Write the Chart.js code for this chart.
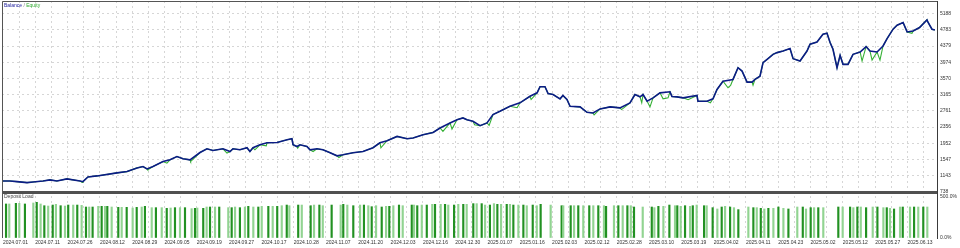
<!DOCTYPE html>
<html><head><meta charset="utf-8">
<script src="https://cdn.jsdelivr.net/npm/chart.js@4.4.1/dist/chart.umd.min.js"></script>
<style>html,body{margin:0;padding:0;background:#fff;}#wrap{width:960px;height:248px;position:relative;}</style>
</head><body><div id="wrap"><canvas id="c" width="960" height="248"></canvas></div>
<script>
// ---- data ----
const xTickLabels = ['2024.07.01','2024.07.11','2024.07.26','2024.08.12','2024.08.29','2024.09.05','2024.09.19','2024.09.27','2024.10.17','2024.10.28','2024.11.07','2024.11.20','2024.12.03','2024.12.16','2024.12.30','2025.01.07','2025.01.16','2025.02.03','2025.02.12','2025.02.28','2025.03.10','2025.03.19','2025.04.02','2025.04.11','2025.04.23','2025.05.02','2025.05.12','2025.05.27','2025.06.13'];
const yTickValues = [738,1142.5,1547,1951.5,2356,2760.5,3165,3569.5,3974,4378.5,4783,5187.5];
const yTickLabels = ['738','1143','1547','1952','2356','2761','3165','3570','3974','4379','4783','5188'];
const loadTickValues = [0,500];
const loadTickLabels = ['0.0%','500.0%'];

const balanceT = [0,0.43,0.87,1.49,1.86,2.48,2.91,3.34,3.96,4.77,
4.95,5.26,5.82,7.06,7.68,8.30,8.67,8.92,9.29,9.91,
10.34,10.77,11.15,11.58,12.20,12.63,13.00,13.62,14.06,14.24,
14.67,15.11,15.29,15.48,15.91,16.35,16.97,17.59,17.89,17.96,
18.20,18.39,18.82,19.01,19.44,19.81,20.22,20.68,21.05,21.67,
22.29,22.91,23.34,23.78,24.40,25.02,25.39,26.01,26.63,27.06,
27.68,28.11,28.48,28.73,29.10,29.54,29.97,30.34,30.77,31.39,
32.01,32.63,33.07,33.25,33.56,33.75,34.06,34.49,34.67,34.92,
35.11,35.73,36.16,36.53,36.97,37.59,38.20,38.82,39.13,39.44,
39.63,39.88,40.25,40.68,41.30,41.42,41.73,42.11,42.97,43.03,
43.59,43.96,44.21,44.58,45.20,45.51,45.76,46.07,46.38,46.56,
46.87,47.06,47.31,47.68,47.93,48.30,48.73,48.92,49.35,49.78,
49.97,50.40,50.77,51.02,51.21,51.39,51.64,51.83,52.01,52.32,
52.63,53.07,53.44,53.68,54.12,54.49,54.74,55.11,55.36,55.73,
55.98,56.35,56.75,57.21,57.28,57.52,57.70];
const balance = [1014,1014,996,971,989,1014,1039,1014,1064,1014,
996,1114,1139,1214,1247,1339,1372,1314,1372,1497,
1540,1623,1565,1540,1723,1816,1773,1816,1748,1816,
1791,1841,1748,1841,1916,1966,1973,2041,2066,1916,
1873,1916,1873,1791,1816,1791,1723,1640,1665,1715,
1748,1841,1966,2016,2124,2066,2084,2166,2224,2334,
2460,2542,2585,2542,2500,2392,2460,2668,2750,2876,
2961,3126,3211,3362,3362,3194,3169,3061,3144,3044,
2876,2861,2725,2710,2810,2861,2836,2961,3169,3111,
3169,3001,3086,3211,3236,3119,3111,3086,3144,3001,
3001,3061,3294,3502,3545,3838,3753,3477,3477,3545,
3627,3963,4046,4171,4214,4254,4314,4063,4003,4254,
4422,4479,4672,4697,4464,4297,3838,4146,3921,3921,
4171,4229,4364,4254,4229,4379,4565,4798,4898,4966,
4730,4755,4840,5031,4966,4798,4780];

// equity drawdown points (equity equals balance elsewhere)
const equityDipT = [4.90,8.97,10.15,11.62,13.87,15.60,16.30,18.25,19.20,20.80,23.40,27.24,27.80,29.20,30.10,31.83,32.70,36.60,38.30,39.55,40.06,40.87,41.18,42.42,43.80,44.89,45.05,46.44,53.19,53.81,54.30,56.28];
const equityDip = [975,1290,1457,1497,1708,1790,1891,1833,1748,1598,1840,2249,2309,2417,2400,2840,3044,2660,2793,2961,2861,3061,3086,3040,2960,3337,3394,3400,4003,4028,4028,4697];

const loadT = [0.19,0.39,0.80,1.01,1.36,1.88,2.09,2.33,2.56,2.80,
3.08,3.28,3.57,3.84,4.04,4.35,4.60,4.87,5.14,5.34,
5.55,5.90,6.11,6.32,6.46,6.73,7.14,7.35,7.66,8.03,
8.28,8.59,8.79,9.21,9.47,9.83,10.14,10.38,10.65,10.96,
11.27,11.68,11.89,12.03,12.40,12.61,12.82,13.13,13.39,13.95,
14.16,14.37,14.67,14.98,15.19,15.50,15.81,16.02,16.43,16.70,
16.98,17.26,17.57,17.73,18.28,
18.50,19.05,19.26,19.59,19.80,20.35,20.91,21.07,21.32,21.69,
22.11,22.35,22.62,22.83,23.10,23.45,23.72,23.92,24.17,24.52,
24.75,25.31,25.45,25.65,25.93,26.24,26.58,26.75,27.10,27.37,
27.57,27.93,28.19,28.50,28.71,29.12,29.33,29.64,29.85,30.15,
30.40,30.61,30.84,31.19,31.39,31.60,31.91,32.22,32.43,32.80,
33.05,33.29,33.91,34.59,34.69,35.15,35.36,35.62,35.93,36.30,
36.55,36.86,37.21,37.34,37.83,38.10,
38.37,38.66,38.87,39.07,39.61,40.17,40.33,40.58,40.89,41.26,
41.61,41.75,41.96,42.23,42.54,42.71,42.95,43.41,43.57,43.94,
44.23,44.50,44.71,45.02,45.26,45.53,46.15,46.46,46.67,46.92,
47.14,47.39,47.70,48.01,48.32,48.63,49.18,49.52,49.72,50.01,
50.22,50.48,50.79,51.72,51.99,52.45,52.65,52.90,53.11,53.44,
53.85,54.14,54.51,54.72,54.92,55.17,55.54,55.71,56.16,56.41,
56.67,56.98,57.23];
const load = [415,415,423,423,415,427,435,415,394,390,
402,411,394,390,402,402,402,398,378,378,
378,386,386,386,386,378,374,374,374,366,
374,378,386,370,370,370,362,366,370,370,
370,358,362,366,362,378,378,378,378,370,
370,378,370,378,386,378,378,386,386,386,
386,394,402,394,402,
402,394,402,402,394,402,402,411,402,394,
402,402,394,382,394,378,386,386,394,402,
394,402,402,394,402,402,411,411,411,411,
402,402,411,411,411,419,419,419,402,402,
419,411,411,411,411,402,402,402,394,402,
394,411,402,394,394,394,394,394,394,394,
394,394,394,386,394,394,
394,394,394,378,378,378,370,386,386,402,
394,394,386,394,386,394,402,394,394,370,
354,378,386,378,370,346,378,370,370,362,
354,362,362,378,362,354,378,378,354,370,
370,370,370,378,378,378,370,378,378,370,
378,378,370,370,362,354,378,378,378,378,
378,378,378];

// ---- build ----
const balancePts = balanceT.map((t, i) => ({x: t, y: balance[i]}));
const equityPts = balancePts.concat(equityDipT.map((t, i) => ({x: t, y: equityDip[i]}))).sort((a, b) => a.x - b.x);
const loadPts = loadT.map((t, i) => ({x: t, y: load[i]}));

const FONT = {family: '"Liberation Sans", Arial, sans-serif', size: 5};
const GRID = '#d6d6d6';
const AXIS = '#3a3a3a';

const textPlugin = {
  id: 'mtTexts',
  afterDraw(chart) {
    const ctx = chart.ctx, a = chart.chartArea;
    ctx.save();
    ctx.strokeStyle = '#555';
    ctx.lineWidth = 1;
    ctx.beginPath();
    ctx.moveTo(a.left + 0.5, a.bottom);
    ctx.lineTo(a.left + 0.5, a.top + 0.5);
    ctx.lineTo(a.right, a.top + 0.5);
    ctx.stroke();
    ctx.font = '5px "Liberation Sans", Arial, sans-serif';
    ctx.textBaseline = 'top';
    let x = a.left + 2, y = a.top + 2;
    ctx.fillStyle = '#1a1a9a'; ctx.fillText('Balance', x, y); x += ctx.measureText('Balance').width;
    ctx.fillStyle = '#777'; ctx.fillText(' / ', x, y); x += ctx.measureText(' / ').width;
    ctx.fillStyle = '#2ea82e'; ctx.fillText('Equity', x, y);
    ctx.fillStyle = '#444';
    ctx.fillText('Deposit Load', a.left + 2, chart.scales.yLoad.top + 2.5);
    ctx.restore();
  }
};

new Chart(document.getElementById('c'), {
  type: 'line',
  data: {
    datasets: [
      {label: 'Balance', data: balancePts, borderColor: '#0c1c86', borderWidth: 1.6, pointRadius: 0, tension: 0, yAxisID: 'y', xAxisID: 'x'},
      {label: 'Equity', data: equityPts, borderColor: '#34b034', borderWidth: 1.1, pointRadius: 0, tension: 0, yAxisID: 'y', xAxisID: 'x'},
      {type: 'bar', label: 'Deposit Load', data: loadPts, yAxisID: 'yLoad', xAxisID: 'x', barThickness: 1.5,
       backgroundColor: (c) => (c.dataIndex % 2 ? '#92d492' : '#229122'), borderWidth: 0}
    ]
  },
  options: {
    responsive: false,
    animation: false,
    devicePixelRatio: 1,
    layout: {padding: {top: 1, left: 2, right: 0, bottom: 0}},
    plugins: {legend: {display: false}, tooltip: {enabled: false}},
    scales: {
      x: {
        type: 'linear', position: 'bottom', min: -0.06, max: 57.83, offset: false,
        afterBuildTicks: (s) => { s.ticks = Array.from({length: xTickLabels.length * 2}, (_, i) => ({value: i})); },
        afterFit: (s) => { s.height = 10; s.paddingLeft = 0; s.paddingRight = 0; },
        ticks: {autoSkip: false, maxRotation: 0, minRotation: 0, align: 'start', padding: 2, color: '#333', font: FONT,
                callback: (v, i) => (i % 2 ? '' : xTickLabels[i / 2])},
        grid: {offset: false, color: GRID, lineWidth: 1, drawTicks: false},
        border: {display: false, dash: [2, 3]}
      },
      y: {
        type: 'linear', position: 'right', stack: 'panes', stackWeight: 191, min: 738, max: 5501,
        afterBuildTicks: (s) => { s.ticks = yTickValues.map(v => ({value: v})); },
        afterFit: (s) => { s.width = 23; s.paddingTop = 0; s.paddingBottom = 0; },
        ticks: {padding: 3, color: '#333', font: FONT, callback: (v, i) => yTickLabels[i]},
        grid: {drawTicks: false,
               color: (c) => (c.tick && c.tick.value === yTickValues[0] ? '#505050' : GRID),
               lineWidth: (c) => (c.tick && c.tick.value === yTickValues[0] ? 3 : 1)},
        border: {display: true, color: AXIS, width: 1,
                 dash: (c) => (c.tick && c.tick.value === yTickValues[0] ? [] : [2, 3])}
      },
      yLoad: {
        type: 'linear', position: 'right', stack: 'panes', stackWeight: 46, min: 0, max: 561,
        afterBuildTicks: (s) => { s.ticks = loadTickValues.map(v => ({value: v})); },
        afterFit: (s) => { s.width = 23; s.paddingTop = 0; s.paddingBottom = 0; },
        ticks: {padding: 3, color: '#333', font: FONT, callback: (v, i) => loadTickLabels[i]},
        grid: {drawOnChartArea: false, drawTicks: false},
        border: {display: true, color: AXIS, width: 1}
      }
    }
  },
  plugins: [textPlugin]
});
</script>
</body></html>
